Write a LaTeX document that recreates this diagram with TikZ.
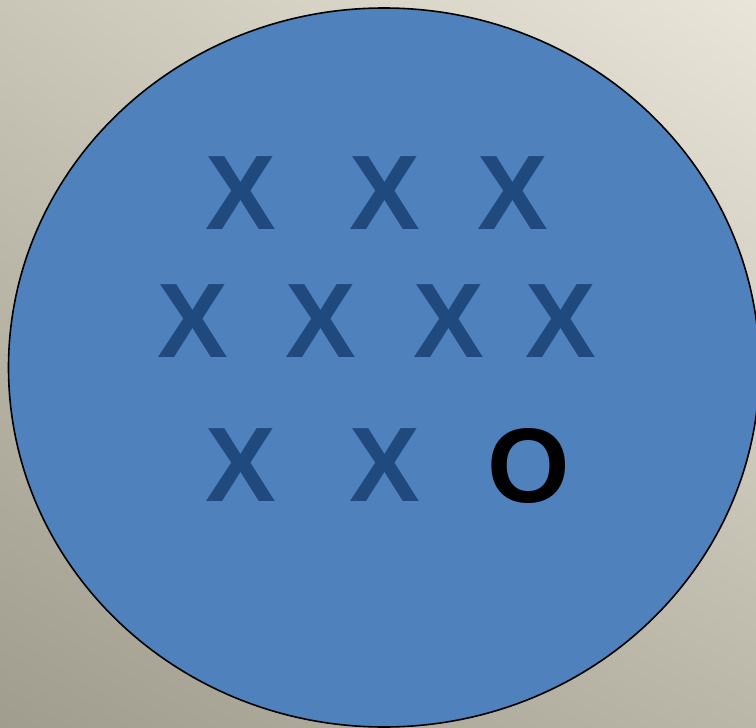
\documentclass[tikz,border=0pt]{standalone}
\usepackage{fontspec}
\setmainfont{Liberation Sans}
\usetikzlibrary{shadings}
\definecolor{bgTL}{RGB}{201,198,184}
\definecolor{bgTR}{RGB}{233,230,217}
\definecolor{bgBL}{RGB}{160,157,143}
\definecolor{bgBR}{RGB}{186,183,169}
\definecolor{discblue}{RGB}{79,129,189}
\definecolor{xblue}{RGB}{32,74,126}
\tikzset{
  xmark/.style={inner sep=0pt, outer sep=0pt, text=xblue, font=\fontsize{106}{106}\selectfont\bfseries},
  omark/.style={inner sep=0pt, outer sep=0pt, text=black, font=\fontsize{106}{106}\selectfont\bfseries},
  disc/.style={draw=black, line width=1.6pt, fill=discblue}
}
\begin{document}
\begin{tikzpicture}[x=1pt,y=-1pt]
\useasboundingbox (0,0) rectangle (756,728);
\shade[upper left=bgTL, upper right=bgTR, lower left=bgBL, lower right=bgBR] (0,0) rectangle (756,728);
\begin{scope}
\clip (0,0) rectangle (756,728);
\path[disc] (384,367.5) ellipse [x radius=375.5, y radius=359.5];
\end{scope}
\node[xmark] (a1) at (241,193.5) {X};
\node[xmark] (a2) at (385,193.5) {X};
\node[xmark] (a3) at (513,193.5) {X};
\node[xmark] (b1) at (193,321) {X};
\node[xmark] (b2) at (321,321) {X};
\node[xmark] (b3) at (449,321) {X};
\node[xmark] (b4) at (561,321) {X};
\node[xmark] (c1) at (241,465) {X};
\node[xmark] (c2) at (385,465) {X};
\node[omark] (c3) at (529,466) {O};
\end{tikzpicture}
\end{document}
